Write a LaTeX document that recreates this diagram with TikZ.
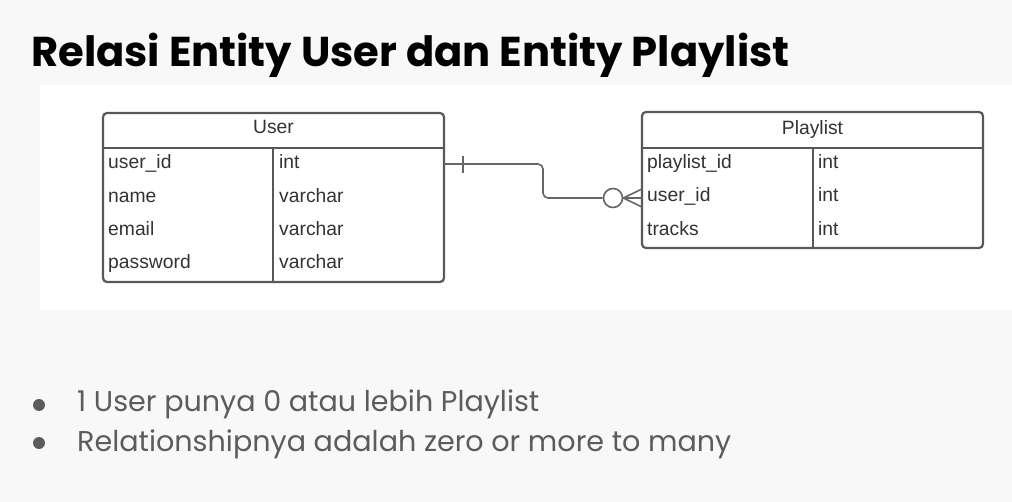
\documentclass[tikz,border=0pt]{standalone}
\usepackage{fontspec}
\setmainfont{Liberation Sans}
\newfontfamily\titlefont{Poppins}[UprightFont=* Bold]
\newfontfamily\bulletfont{Poppins}
\definecolor{bgc}{HTML}{F8F8F8}
\definecolor{tblline}{HTML}{585858}
\definecolor{tbltext}{HTML}{333333}
\definecolor{conn}{HTML}{666666}
\definecolor{bultext}{HTML}{5C5C5C}
\begin{document}
\begin{tikzpicture}[x=1pt,y=-1pt,
  tbl/.style={draw=tblline, line width=2.2pt, rounded corners=4pt, fill=white},
  sep/.style={draw=tblline, line width=2.2pt},
  cell/.style={anchor=base west, inner sep=0pt, text=tbltext, font=\fontsize{19.3}{23}\selectfont},
  head/.style={anchor=base, inner sep=0pt, text=tbltext, font=\fontsize{19.3}{23}\selectfont},
  connline/.style={draw=conn, line width=1.6pt},
  bul/.style={anchor=base west, inner sep=0pt, text=bultext, font=\bulletfont\fontsize{28.6}{34}\selectfont},
  dot/.style={circle, fill=bultext, inner sep=0pt, minimum size=12pt}
]
\useasboundingbox (0,0) rectangle (1012,502);
\fill[bgc] (0,0) rectangle (1012,502);
\fill[white] (40,85) rectangle (1012,310);

% title
\node[anchor=base west, inner sep=0pt, font=\titlefont\fontsize{41.7}{48}\selectfont, text=black] (title) at (31,67) {Relasi Entity User dan Entity Playlist};

% User table
\node[tbl, minimum width=341pt, minimum height=169pt, inner sep=0pt] (user) at (273.5,197.5) {};
\draw[sep] (103,148) -- (444,148);
\draw[sep] (273,148) -- (273,282);
\node[head] (userh) at (273.5,134) {User};
\node[cell] (u1) at (108,169) {user\_id};
\node[cell] (u2) at (108,202.5) {name};
\node[cell] (u3) at (108,235.5) {email};
\node[cell] (u4) at (108,268.5) {password};
\node[cell] (t1) at (279,169) {int};
\node[cell] (t2) at (279,202.5) {varchar};
\node[cell] (t3) at (279,235.5) {varchar};
\node[cell] (t4) at (279,268.5) {varchar};

% Playlist table
\node[tbl, minimum width=341pt, minimum height=136pt, inner sep=0pt] (playlist) at (812.5,180) {};
\draw[sep] (642,148) -- (983,148);
\draw[sep] (813,148) -- (813,248);
\node[head] (plh) at (812.5,135) {Playlist};
\node[cell] (p1) at (647,169) {playlist\_id};
\node[cell] (p2) at (647,202) {user\_id};
\node[cell] (p3) at (647,235.5) {tracks};
\node[cell] (q1) at (818,169) {int};
\node[cell] (q2) at (818,202) {int};
\node[cell] (q3) at (818,235.5) {int};

% connector
\coordinate (cs) at (444,164);
\coordinate (ce) at (642,198);
\node[circle, draw=conn, line width=1.6pt, minimum size=19pt, inner sep=0pt, fill=white] (zero) at (613,198) {};
\draw[connline, rounded corners=5pt] (cs) -- (543,164) -- (543,198) -- (zero.west);
\draw[connline] (463,156) -- (463,173);
\draw[connline] (zero.east) -- (ce |- 0,189);
\draw[connline] (zero.east) -- (ce);
\draw[connline] (zero.east) -- (ce |- 0,207);

% bullets
\node[dot] (d1) at (39,405) {};
\node[dot] (d2) at (39,443) {};
\node[bul] (b1) at (77,412) {1 User punya 0 atau lebih Playlist};
\node[bul] (b2) at (77,451) {Relationshipnya adalah zero or more to many};
\end{tikzpicture}
\end{document}
